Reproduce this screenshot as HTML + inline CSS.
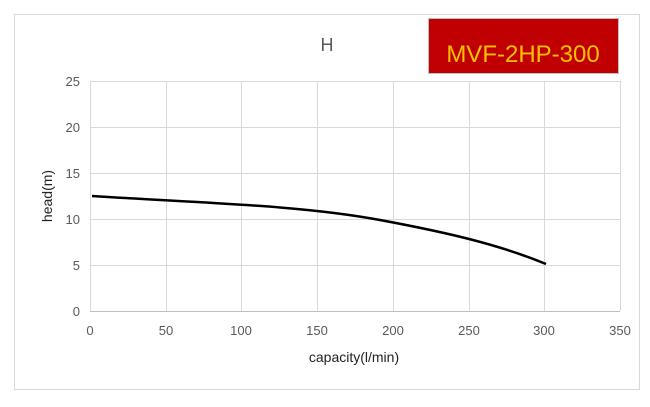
<!DOCTYPE html>
<html><head><style>body{margin:0;background:#fff}</style></head><body>
<svg width="650" height="402" xmlns="http://www.w3.org/2000/svg" font-family="Liberation Sans, sans-serif">
<rect x="14.5" y="14.5" width="625" height="375" fill="#fff" stroke="#d9d9d9"/>
<g stroke="#d9d9d9" stroke-width="1">
<line x1="90" y1="81.5" x2="620" y2="81.5"/>
<line x1="90" y1="127.5" x2="620" y2="127.5"/>
<line x1="90" y1="173.5" x2="620" y2="173.5"/>
<line x1="90" y1="219.5" x2="620" y2="219.5"/>
<line x1="90" y1="265.5" x2="620" y2="265.5"/>
<line x1="90.5" y1="81" x2="90.5" y2="311"/>
<line x1="166.5" y1="81" x2="166.5" y2="311"/>
<line x1="241.5" y1="81" x2="241.5" y2="311"/>
<line x1="317.5" y1="81" x2="317.5" y2="311"/>
<line x1="393.5" y1="81" x2="393.5" y2="311"/>
<line x1="469.5" y1="81" x2="469.5" y2="311"/>
<line x1="544.5" y1="81" x2="544.5" y2="311"/>
<line x1="620.5" y1="81" x2="620.5" y2="311"/>
</g>
<line x1="90" y1="311.5" x2="620" y2="311.5" stroke="#bfbfbf"/>
<g font-size="13" fill="#595959" text-anchor="end">
<text x="80" y="86">25</text><text x="80" y="132">20</text><text x="80" y="178">15</text>
<text x="80" y="224">10</text><text x="80" y="270">5</text><text x="80" y="316">0</text>
</g>
<g font-size="13" fill="#595959" text-anchor="middle">
<text x="90" y="335">0</text><text x="166" y="335">50</text><text x="241" y="335">100</text>
<text x="317" y="335">150</text><text x="393" y="335">200</text><text x="469" y="335">250</text>
<text x="544" y="335">300</text><text x="620" y="335">350</text>
</g>
<text x="354" y="362" font-size="14" fill="#222" text-anchor="middle">capacity(l/min)</text>
<text transform="translate(52,196) rotate(-90)" font-size="14" fill="#222" text-anchor="middle">head(m)</text>
<text x="327" y="51" font-size="18" fill="#595959" text-anchor="middle">H</text>
<path d="M92,196 C200,203 300,205 380,220 C450,233 500,245 546,264" fill="none" stroke="#000" stroke-width="2.5"/>
<rect x="428.5" y="18.5" width="190" height="55" fill="#c00000" stroke="#bfbfbf"/>
<text x="523" y="62" font-size="24" fill="#ffc000" text-anchor="middle">MVF-2HP-300</text>
</svg>
</body></html>
